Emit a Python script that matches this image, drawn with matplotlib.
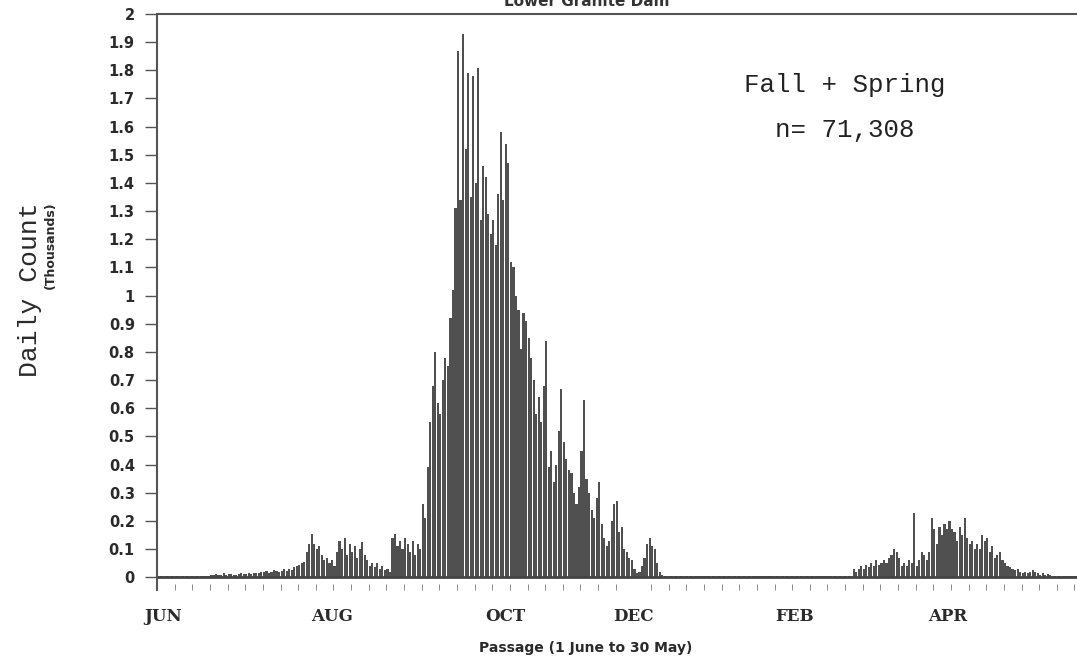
import matplotlib
matplotlib.use('Agg')
import matplotlib.pyplot as plt
import numpy as np

# Daily passage counts (thousands), 1 June .. 30 May
summer = [0.004, 0.003, 0.005, 0.004, 0.003, 0.004, 0.005, 0.004, 0.003, 0.004,
          0.005, 0.004, 0.003, 0.004, 0.004, 0.005, 0.004, 0.003, 0.004, 0.005,
          0.006, 0.008, 0.010, 0.012, 0.008, 0.010, 0.014, 0.009, 0.011, 0.013,
          0.010, 0.008, 0.012, 0.015, 0.011, 0.013, 0.016, 0.012, 0.014, 0.017,
          0.015, 0.020, 0.018, 0.022, 0.016, 0.020, 0.025, 0.021, 0.018, 0.024,
          0.028, 0.022, 0.030, 0.026, 0.035, 0.040, 0.045, 0.050, 0.055, 0.090,
          0.120, 0.155, 0.120, 0.100, 0.110, 0.080, 0.060, 0.070, 0.050, 0.060,
          0.040, 0.090, 0.130, 0.100, 0.140, 0.080, 0.120, 0.090, 0.110, 0.070,
          0.100, 0.125, 0.080, 0.060, 0.040, 0.050, 0.035, 0.050, 0.030, 0.040,
          0.025, 0.030, 0.020, 0.140, 0.155, 0.110, 0.130, 0.100, 0.140, 0.120,
          0.090, 0.130, 0.080, 0.120, 0.100]
fall = [0.26, 0.21, 0.39, 0.55, 0.68, 0.80, 0.62, 0.58, 0.70, 0.78,
        0.75, 0.92, 1.02, 1.31, 1.87, 1.34, 1.93, 1.52, 1.79, 1.35,
        1.78, 1.40, 1.81, 1.27, 1.46, 1.42, 1.29, 1.22, 1.27, 1.18,
        1.36, 1.58, 1.34, 1.54, 1.47, 1.12, 1.10, 1.00, 0.95, 0.81,
        0.94, 0.91, 0.85, 0.78, 0.70, 0.58, 0.64, 0.55, 0.68, 0.84,
        0.39, 0.45, 0.34, 0.40, 0.52, 0.67, 0.48, 0.42, 0.38, 0.37,
        0.30, 0.26, 0.32, 0.45, 0.63, 0.35, 0.30, 0.24, 0.21, 0.28,
        0.34, 0.19, 0.14, 0.11, 0.13, 0.20, 0.26, 0.27, 0.16, 0.18,
        0.10, 0.09, 0.07, 0.06, 0.03, 0.015, 0.02, 0.04, 0.07, 0.12,
        0.14, 0.11, 0.10, 0.05, 0.02, 0.01]
winter = [0.005, 0.004, 0.004, 0.005, 0.003, 0.004, 0.005, 0.004, 0.004, 0.003,
          0.005, 0.004, 0.004, 0.005, 0.003, 0.004, 0.005, 0.004, 0.004, 0.003,
          0.005, 0.004, 0.004, 0.005, 0.003, 0.004, 0.005, 0.004, 0.004, 0.003,
          0.005, 0.004, 0.004, 0.005, 0.003, 0.004, 0.005, 0.004, 0.004, 0.003,
          0.005, 0.004, 0.004, 0.005, 0.003, 0.004, 0.005, 0.004, 0.004, 0.003,
          0.005, 0.004, 0.004, 0.005, 0.003, 0.004, 0.005, 0.004, 0.004, 0.003,
          0.005, 0.004, 0.004, 0.005, 0.003, 0.004, 0.005, 0.004, 0.004, 0.003,
          0.005, 0.004, 0.004, 0.005, 0.003]
spring = [0.030, 0.020, 0.030, 0.040, 0.030, 0.045, 0.035, 0.050, 0.040, 0.060,
          0.045, 0.050, 0.060, 0.050, 0.070, 0.080, 0.100, 0.090, 0.070, 0.040,
          0.050, 0.040, 0.060, 0.050, 0.230, 0.040, 0.060, 0.090, 0.080, 0.060,
          0.090, 0.210, 0.170, 0.120, 0.180, 0.150, 0.190, 0.170, 0.200, 0.170,
          0.160, 0.130, 0.180, 0.150, 0.210, 0.140, 0.120, 0.130, 0.100, 0.120,
          0.100, 0.150, 0.130, 0.140, 0.090, 0.110, 0.070, 0.080, 0.090, 0.060,
          0.050, 0.040, 0.035, 0.030, 0.025, 0.030, 0.020, 0.015, 0.020, 0.015,
          0.020, 0.025, 0.020, 0.015, 0.010, 0.015, 0.010, 0.012, 0.008, 0.006,
          0.006, 0.005, 0.006, 0.005, 0.006, 0.005, 0.006, 0.005, 0.006]

counts = summer + fall + winter + spring
days = np.arange(len(counts))

month_labels = ['JUN', 'AUG', 'OCT', 'DEC', 'FEB', 'APR']
month_pos = [2.4, 69.4, 138, 189, 253, 313.5]
y_ticks = [0, 0.1, 0.2, 0.3, 0.4, 0.5, 0.6, 0.7, 0.8, 0.9, 1,
           1.1, 1.2, 1.3, 1.4, 1.5, 1.6, 1.7, 1.8, 1.9, 2]

fig = plt.figure(figsize=(10.77, 6.64), dpi=100)
ax = fig.add_axes([157/1077, 1 - 590/664, 1 - 157/1077, (590 - 14)/664])

ax.bar(days, counts, width=0.85, color='#505050', align='edge', linewidth=0)
ax.axhline(0, color='#444444', lw=2)

ax.set_xlim(0, 365)
ax.set_ylim(-0.045, 2.0)

ax.spines['right'].set_visible(False)
ax.spines['bottom'].set_visible(False)
ax.spines['left'].set_color('#555555')
ax.spines['top'].set_color('#555555')
ax.spines['left'].set_linewidth(1.5)
ax.spines['top'].set_linewidth(1.5)

ax.set_yticks(y_ticks)
ax.set_yticklabels(['%g' % v for v in y_ticks], fontsize=10.5, fontweight='bold',
                   color='#2a2a2a', family='DejaVu Sans')
ax.tick_params(axis='y', direction='out', length=9, width=1, color='#555555', pad=7)

ax.set_xticks(month_pos)
ax.set_xticklabels(month_labels, fontsize=12, fontweight='bold',
                   family='DejaVu Serif', color='#2a2a2a')
ax.tick_params(axis='x', length=0, pad=13)
ax.set_xticks(np.arange(0, 365, 7), minor=True)
ax.tick_params(axis='x', which='minor', direction='in', length=4, color='#777777')

fig.text(30/1077, 1 - 290/664, 'Daily Count', rotation=90, ha='center', va='center',
         fontsize=19, family='Liberation Mono', color='#2a2a2a')
fig.text(50/1077, 1 - 245/664, '(Thousands)', rotation=90, ha='center', va='center',
         fontsize=9, fontweight='bold', color='#2a2a2a')
fig.text(586/1077, 1 - 648/664, 'Passage (1 June to 30 May)', ha='center', va='center',
         fontsize=10, fontweight='bold', color='#2a2a2a')
fig.text(587/1077, 1 - 6/664, 'Lower Granite Dam', ha='center', va='baseline',
         fontsize=11, fontweight='bold', color='#333333')

fig.text(845/1077, 1 - 85/664, 'Fall + Spring', ha='center', va='center',
         fontsize=18.5, family='Liberation Mono', color='#222222')
fig.text(845/1077, 1 - 130/664, 'n= 71,308', ha='center', va='center',
         fontsize=18.5, family='Liberation Mono', color='#222222')

fig.savefig('out.png', dpi=100)
